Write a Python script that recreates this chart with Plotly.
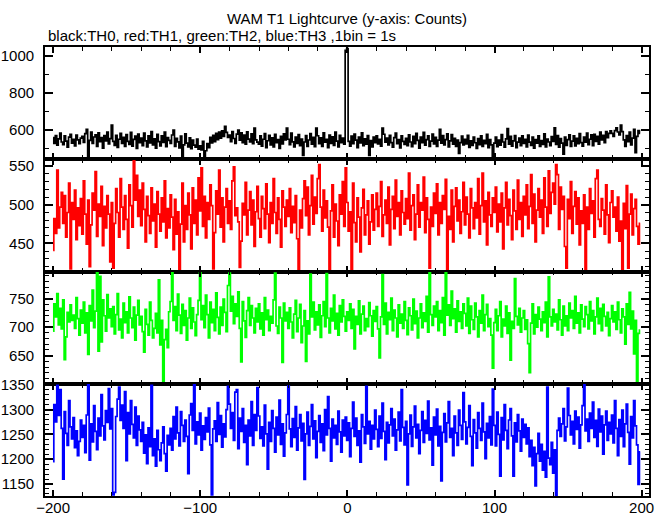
import plotly.graph_objects as go
from plotly.subplots import make_subplots

time_s = list(range(-200, 200))

th0_black = [
    560, 528, 571, 519, 553, 584, 536, 522, 569, 541, 508, 562, 578, 530, 551, 515, 574, 548, 527, 557,
    566, 534, 581, 604, 456, 545, 589, 529, 563, 575, 512, 586, 538, 560, 503, 571, 542, 590, 526, 554,
    627, 539, 518, 572, 507, 551, 583, 529, 561, 512, 576, 540, 523, 588, 514, 550, 568, 502, 579, 533,
    557, 516, 584, 542, 509, 570, 531, 592, 521, 553, 503, 577, 538, 515, 569, 534, 589, 511, 560, 545,
    528, 574, 600, 512, 556, 537, 504, 568, 448, 521, 580, 530, 509, 559, 500, 547, 519, 508, 552, 498,
    516, 493, 540, 450, 489, 527, 506, 561, 531, 572, 538, 583, 549, 590, 557, 596, 566, 620, 588, 561,
    574, 538, 592, 555, 529, 579, 601, 546, 585, 533, 573, 524, 591, 552, 537, 580, 527, 611, 548, 535,
    525, 569, 514, 551, 582, 506, 543, 572, 520, 558, 509, 578, 533, 549, 501, 566, 526, 580, 547, 611,
    551, 522, 584, 537, 510, 563, 529, 576, 516, 552, 464, 536, 571, 513, 547, 582, 524, 561, 511, 611,
    570, 527, 558, 513, 585, 535, 550, 506, 573, 529, 564, 518, 590, 541, 509, 572, 532, 557, 524, 1031,
    1040, 540, 514, 568, 527, 579, 546, 505, 562, 531, 586, 517, 553, 525, 571, 464, 544, 510, 563, 532,
    569, 526, 551, 514, 611, 578, 535, 557, 520, 572, 533, 508, 560, 584, 527, 549, 504, 570, 539, 523,
    556, 517, 575, 536, 511, 566, 527, 583, 545, 503, 562, 532, 588, 519, 549, 570, 513, 541, 579, 526,
    561, 512, 546, 604, 530, 571, 521, 549, 580, 509, 542, 576, 525, 556, 512, 547, 475, 533, 568, 520,
    550, 526, 572, 507, 543, 518, 563, 532, 501, 554, 522, 570, 512, 545, 527, 578, 506, 549, 521, 457,
    530, 562, 511, 546, 519, 576, 536, 508, 553, 608, 524, 566, 514, 542, 571, 505, 535, 557, 517, 569,
    528, 551, 509, 573, 535, 518, 562, 503, 549, 530, 570, 512, 544, 523, 580, 510, 552, 536, 516, 565,
    539, 612, 523, 571, 508, 554, 530, 470, 563, 518, 549, 575, 512, 541, 569, 515, 556, 527, 582, 533,
    514, 563, 535, 584, 522, 551, 575, 517, 578, 540, 566, 525, 589, 548, 572, 533, 592, 560, 583, 596,
    583, 566, 598, 612, 590, 575, 627, 592, 548, 512, 571, 538, 589, 521, 557, 605, 478, 566, 598, 583,
]

th1_red = [
    441, 482, 463, 545, 470, 497, 516, 476, 512, 458, 490, 528, 417, 503, 481, 519, 455, 496, 473, 508,
    462, 531, 488, 449, 506, 420, 474, 515, 493, 543, 459, 501, 485, 524, 447, 498, 470, 512, 488, 426,
    503, 418, 476, 521, 490, 458, 534, 497, 468, 512, 481, 444, 526, 499, 471, 557, 506, 538, 485, 519,
    473, 528, 494, 452, 511, 486, 463, 522, 479, 501, 445, 517, 488, 466, 509, 478, 531, 457, 495, 470,
    513, 484, 442, 507, 462, 491, 416, 475, 528, 452, 499, 468, 515, 487, 443, 522, 476, 506, 461, 535,
    492, 548, 472, 511, 457, 503, 481, 526, 499, 417, 464, 518, 488, 545, 471, 509, 452, 497, 521, 476,
    505, 468, 531, 549, 486, 496, 478, 419, 453, 502, 487, 529, 461, 493, 517, 474, 506, 446, 491, 524,
    482, 458, 511, 495, 469, 527, 488, 451, 503, 476, 534, 490, 463, 509, 481, 445, 518, 497, 472, 506,
    485, 521, 464, 498, 477, 512, 456, 415, 493, 470, 508, 531, 486, 523, 461, 499, 538, 475, 510, 489,
    534, 552, 497, 466, 519, 483, 505, 471, 415, 492, 526, 458, 501, 479, 447, 513, 488, 530, 472, 548,
    503, 466, 491, 416, 528, 477, 452, 509, 484, 439, 496, 520, 461, 487, 505, 449, 478, 513, 467, 494,
    515, 472, 498, 530, 459, 487, 506, 476, 523, 448, 494, 511, 469, 532, 485, 503, 461, 518, 490, 475,
    508, 482, 541, 467, 499, 513, 455, 488, 526, 471, 503, 493, 536, 464, 509, 481, 418, 497, 472, 515,
    489, 527, 461, 503, 476, 512, 494, 533, 414, 485, 468, 519, 452, 498, 522, 479, 506, 463, 491, 529,
    474, 510, 488, 457, 521, 496, 469, 503, 483, 534, 462, 499, 541, 478, 505, 448, 516, 487, 472, 509,
    490, 523, 465, 501, 478, 515, 443, 496, 529, 474, 507, 486, 455, 519, 492, 468, 532, 481, 503, 459,
    511, 487, 526, 469, 498, 539, 476, 514, 452, 493, 521, 484, 506, 463, 535, 497, 472, 544, 489, 516,
    528, 501, 552, 539, 468, 523, 494, 511, 446, 418, 507, 482, 530, 463, 498, 517, 475, 509, 448, 492,
    476, 513, 415, 497, 468, 521, 489, 505, 458, 534, 545, 481, 472, 508, 493, 462, 526, 487, 451, 503,
    518, 484, 497, 466, 510, 453, 479, 416, 502, 469, 525, 418, 488, 514, 461, 495, 507, 472, 449, 476,
]

th2_green = [
    693, 741, 718, 759, 704, 733, 697, 748, 643, 683, 726, 709, 739, 712, 721, 698, 752, 715, 686, 730,
    707, 744, 690, 725, 652, 738, 711, 765, 699, 728, 797, 658, 789, 674, 748, 720, 693, 757, 716, 732,
    701, 736, 688, 722, 759, 695, 714, 681, 742, 708, 727, 690, 753, 716, 699, 735, 677, 721, 747, 704,
    719, 692, 656, 731, 705, 686, 744, 712, 681, 698, 724, 690, 783, 669, 712, 605, 678, 696, 664, 727,
    745, 797, 712, 736, 694, 758, 721, 689, 740, 703, 729, 677, 716, 751, 698, 734, 709, 685, 722, 747,
    796, 713, 738, 699, 756, 722, 681, 744, 708, 731, 694, 760, 717, 688, 735, 703, 749, 726, 692, 773,
    795, 728, 754, 706, 741, 719, 762, 698, 639, 745, 711, 682, 729, 752, 703, 738, 716, 690, 733, 709,
    741, 697, 725, 686, 752, 713, 730, 694, 719, 707, 748, 795, 702, 689, 735, 716, 638, 742, 711, 726,
    698, 734, 709, 681, 723, 747, 692, 716, 740, 673, 702, 729, 640, 711, 688, 793, 718, 744, 695, 727,
    704, 739, 682, 720, 745, 701, 794, 716, 690, 733, 711, 756, 697, 724, 686, 738, 709, 748, 719, 693,
    727, 712, 741, 698, 731, 662, 719, 705, 746, 688, 723, 737, 694, 715, 701, 743, 720, 684, 729, 710,
    736, 697, 646, 718, 792, 705, 742, 688, 726, 713, 751, 694, 730, 716, 683, 739, 707, 723, 698, 745,
    712, 687, 734, 720, 695, 749, 706, 728, 681, 716, 741, 699, 725, 710, 754, 691, 796, 722, 703, 737,
    718, 745, 694, 729, 708, 752, 686, 797, 721, 739, 703, 763, 715, 732, 691, 746, 710, 727, 698, 741,
    724, 702, 751, 689, 737, 713, 696, 742, 718, 683, 729, 707, 756, 694, 722, 740, 701, 715, 686, 628,
    708, 731, 694, 720, 745, 683, 714, 702, 737, 689, 725, 642, 710, 698, 785, 719, 704, 733, 691, 716,
    729, 696, 713, 671, 620, 707, 741, 688, 722, 700, 735, 714, 694, 727, 708, 744, 683, 788, 718, 702,
    731, 709, 723, 695, 748, 713, 686, 737, 702, 720, 694, 742, 716, 729, 698, 754, 707, 725, 690, 739,
    714, 701, 736, 722, 697, 745, 711, 729, 688, 718, 751, 706, 733, 694, 740, 719, 702, 726, 685, 715,
    738, 709, 727, 696, 744, 713, 690, 732, 718, 670, 741, 705, 761, 697, 728, 653, 712, 603, 689, 695,
]

th3_blue = [
    1195, 1310, 1275, 1349, 1288, 1340, 1262, 1160, 1296, 1252, 1228, 1318, 1265, 1241, 1284, 1223, 1257, 1207, 1236, 1279,
    1244, 1268, 1213, 1289, 1352, 1198, 1271, 1235, 1308, 1256, 1219, 1283, 1247, 1330, 1267, 1239, 1298, 1274, 1342, 1261,
    1302, 1128, 1133, 1286, 1321, 1345, 1278, 1309, 1262, 1336, 1197, 1294, 1251, 1318, 1270, 1243, 1305, 1228, 1287, 1259,
    1236, 1274, 1212, 1249, 1191, 1263, 1225, 1349, 1207, 1241, 1186, 1258, 1219, 1197, 1233, 1265, 1211, 1176, 1248, 1229,
    1262, 1218, 1286, 1241, 1305, 1253, 1227, 1296, 1268, 1236, 1279, 1246, 1171, 1289, 1312, 1258, 1350, 1231, 1275, 1249,
    1293, 1218, 1267, 1240, 1284, 1255, 1303, 1229, 1128, 1261, 1277, 1236, 1314, 1250, 1288, 1224, 1271, 1245, 1300, 1347,
    1311, 1262, 1294, 1238, 1335, 1340, 1221, 1283, 1256, 1302, 1234, 1268, 1189, 1279, 1247, 1316, 1228, 1290, 1258, 1344,
    1287, 1242, 1265, 1227, 1309, 1251, 1180, 1274, 1236, 1298, 1262, 1214, 1285, 1249, 1319, 1230, 1271, 1206, 1253, 1290,
    1348, 1261, 1225, 1282, 1244, 1306, 1218, 1263, 1290, 1237, 1272, 1159, 1251, 1295, 1228, 1266, 1310, 1241, 1277, 1203,
    1256, 1288, 1234, 1271, 1217, 1300, 1249, 1326, 1262, 1196, 1281, 1243, 1268, 1230, 1297, 1255, 1214, 1279, 1247, 1285,
    1238, 1273, 1205, 1262, 1315, 1246, 1283, 1228, 1257, 1194, 1290, 1265, 1232, 1347, 1251, 1276, 1220, 1268, 1241, 1299,
    1260, 1225, 1287, 1242, 1313, 1256, 1199, 1274, 1233, 1269, 1302, 1247, 1281, 1218, 1259, 1295, 1237, 1340, 1264, 1229,
    1276, 1148, 1251, 1289, 1226, 1265, 1307, 1243, 1270, 1211, 1258, 1296, 1234, 1278, 1252, 1317, 1239, 1263, 1188, 1285,
    1249, 1301, 1227, 1266, 1156, 1254, 1292, 1235, 1273, 1316, 1244, 1262, 1207, 1287, 1253, 1228, 1299, 1268, 1240, 1334,
    1275, 1231, 1264, 1308, 1246, 1187, 1280, 1253, 1222, 1294, 1262, 1238, 1313, 1255, 1201, 1272, 1243, 1286, 1229, 1341,
    1268, 1227, 1295, 1250, 1166, 1284, 1239, 1310, 1258, 1221, 1279, 1302, 1247, 1166, 1273, 1235, 1290, 1257, 1216, 1281,
    1244, 1270, 1231, 1263, 1205, 1238, 1187, 1224, 1146, 1211, 1252, 1196, 1230, 1178, 1216, 1164, 1345, 1202, 1189, 1234,
    1172, 1219, 1126, 1258, 1283, 1246, 1271, 1302, 1237, 1265, 1343, 1288, 1249, 1276, 1231, 1297, 1260, 1285, 1222, 1269,
    1308, 1352, 1257, 1281, 1236, 1293, 1262, 1315, 1244, 1278, 1226, 1301, 1255, 1287, 1210, 1269, 1297, 1238, 1274, 1251,
    1289, 1233, 1318, 1262, 1207, 1280, 1246, 1299, 1225, 1271, 1311, 1254, 1190, 1286, 1243, 1318, 1267, 1229, 1149, 1215,
]

series = [th0_black, th1_red, th2_green, th3_blue]
colors = ["#000000", "#ff0000", "#00ff00", "#0000ff"]
y_ranges = [[443, 1049], [413.6, 559], [600.7, 797.6], [1125.8, 1352]]
y_major = [200, 50, 50, 50]
y_minor = [100, 10, 10, 10]

FONT = "Liberation Sans, Arial, sans-serif"

fig = make_subplots(rows=4, cols=1, shared_xaxes=True, vertical_spacing=0)

for i, (vals, col) in enumerate(zip(series, colors)):
    fig.add_trace(
        go.Scatter(x=time_s, y=vals, mode="lines", line=dict(color=col, width=1.7, shape="hvh"),
                   showlegend=False, hoverinfo="skip"),
        row=i + 1, col=1,
    )
    fig.update_yaxes(
        range=y_ranges[i], dtick=y_major[i], tick0=0, ticks="inside", ticklen=8, tickwidth=1.5,
        tickcolor="black", showline=True, linecolor="black", linewidth=1.8, mirror="allticks",
        showgrid=False, zeroline=False, automargin=False, ticklabelstandoff=6,
        tickfont=dict(family=FONT, size=15, color="black"),
        minor=dict(dtick=y_minor[i], tick0=0, ticks="inside", ticklen=4, tickwidth=1.2, tickcolor="black"),
        row=i + 1, col=1,
    )
    fig.update_xaxes(
        range=[-205.5, 205], dtick=100, tick0=0, ticks="inside", ticklen=6, tickwidth=1.5,
        tickcolor="black", showline=True, linecolor="black", linewidth=1.8, mirror="allticks",
        showgrid=False, zeroline=False, automargin=False, showticklabels=(i == 3),
        ticklabelstandoff=-3,
        tickfont=dict(family=FONT, size=15, color="black"),
        minor=dict(dtick=20, tick0=0, ticks="inside", ticklen=4, tickwidth=1.2, tickcolor="black"),
        row=i + 1, col=1,
    )

fig.add_annotation(text="WAM T1 Lightcurve (y-axis: Counts)", xref="paper", yref="paper",
                   x=0.5, y=1 + (47 - 18) / 449, xanchor="center", yanchor="middle", showarrow=False,
                   font=dict(family=FONT, size=15, color="black"))
fig.add_annotation(text="black:TH0, red:TH1, green:TH2, blue:TH3 ,1bin = 1s", xref="paper", yref="paper",
                   x=(46 - 45) / 604, y=1 + (47 - 35) / 449, xanchor="left", yanchor="middle", showarrow=False,
                   font=dict(family=FONT, size=15, color="black"))

fig.update_layout(
    width=669, height=515, margin=dict(l=45, r=20, t=47, b=19),
    paper_bgcolor="white", plot_bgcolor="white",
)

fig.write_html("out.html", config={"displayModeBar": False},
               post_script="document.body.style.margin='0';document.body.style.overflow='hidden';")
